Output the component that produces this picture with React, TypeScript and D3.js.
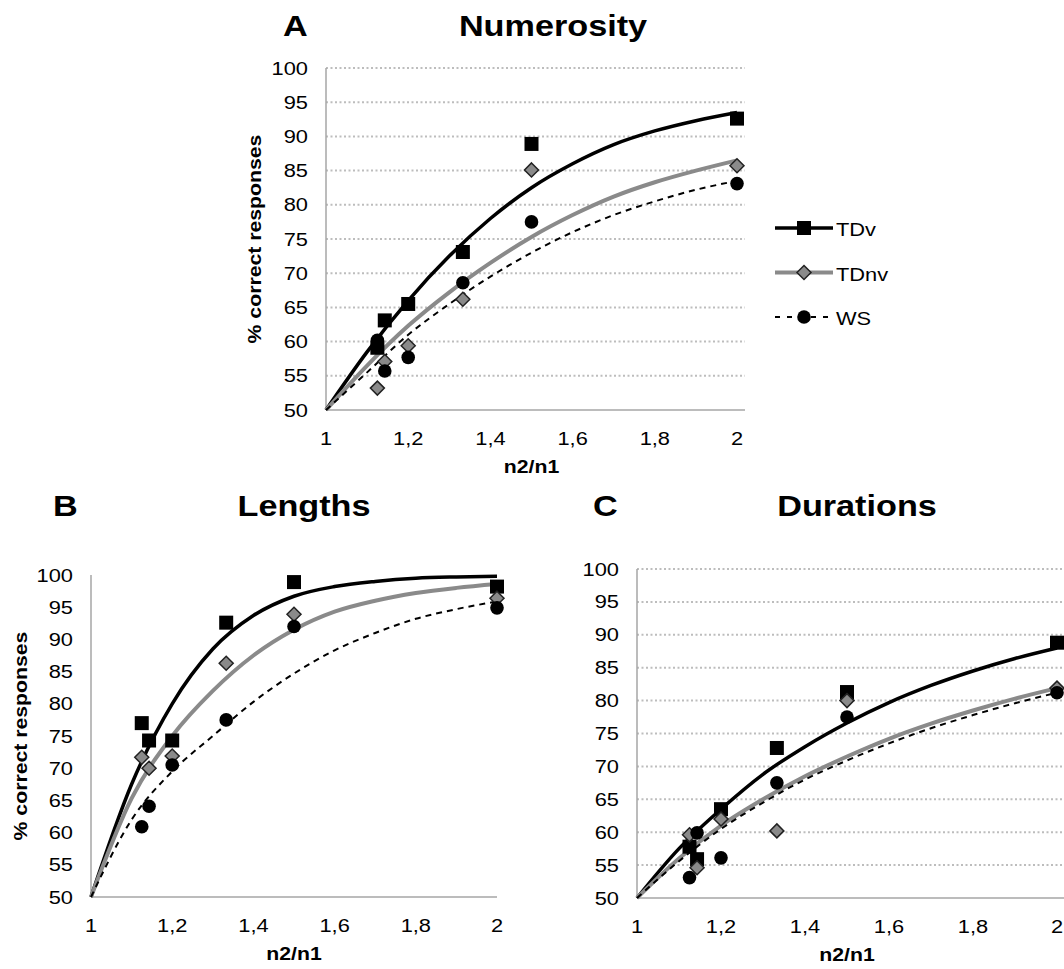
import * as d3 from "d3";
import React from "react";

// ratios n2/n1 where the data were measured
const ratios = [1.125, 1.143, 1.2, 1.333, 1.5, 2];
// x positions of the fitted curves
const fitX = [1, 1.1, 1.2, 1.3, 1.4, 1.5, 1.6, 1.7, 1.8, 1.9, 2];

const xTicks = [1, 1.2, 1.4, 1.6, 1.8, 2];
const yTicks = [50, 55, 60, 65, 70, 75, 80, 85, 90, 95, 100];

// A - Numerosity
const numTDv = [59.1, 63.1, 65.5, 73.1, 88.9, 92.6];
const numTDnv = [53.2, 57.1, 59.4, 66.2, 85.1, 85.7];
const numWS = [60.2, 55.7, 57.7, 68.6, 77.5, 83.1];
const numFitTDv = [50, 58.5, 66, 72.5, 78, 82.5, 86, 88.8, 90.8, 92.3, 93.5];
const numFitTDnv = [50, 56.5, 62.3, 67.2, 71.5, 75.3, 78.5, 81.2, 83.3, 85, 86.5];
const numFitWS = [50, 55.5, 61, 65.5, 69.5, 73, 76, 78.5, 80.5, 82.2, 83.5];

// B - Lengths
const lenTDv = [77.0, 74.3, 74.3, 92.6, 98.9, 98.2];
const lenTDnv = [71.7, 70.0, 71.9, 86.3, 93.9, 96.4];
const lenWS = [60.9, 64.1, 70.5, 77.5, 92.0, 94.9];
const lenFitTDv = [50, 67.5, 80, 88.5, 93.7, 96.7, 98.2, 99, 99.5, 99.7, 99.8];
const lenFitTDnv = [50, 65.3, 75, 82, 87.5, 91.5, 94.3, 96, 97.2, 98, 98.6];
const lenFitWS = [50, 62, 69.5, 75, 80.3, 84.7, 88.3, 91, 93.2, 94.7, 95.9];

// C - Durations
const durTDv = [57.8, 55.9, 63.5, 72.8, 81.3, 88.8];
const durTDnv = [59.6, 54.6, 62.0, 60.2, 80.0, 81.9];
const durWS = [53.1, 59.9, 56.1, 67.5, 77.5, 81.2];
const durFitTDv = [50, 57.5, 63.5, 68.8, 73, 76.6, 79.7, 82.3, 84.5, 86.4, 88.0];
const durFitTDnv = [50, 56, 61, 65, 68.5, 71.5, 74.2, 76.5, 78.5, 80.3, 81.9];
const durFitWS = [50, 55.6, 60.5, 64.5, 68, 70.9, 73.5, 75.8, 77.8, 79.6, 81.2];

const groups = ["TDv", "TDnv", "WS"];

const font = "'Liberation Sans', Arial, sans-serif";
const grey = "#8a8a8a";
const axisGrey = "#a6a6a6";
const stretch = 1.18; // the original's glyphs are wider than Arial

const lineStyle: Record<string, any> = {
  TDv: { stroke: "#000", width: 3.5, dash: null },
  TDnv: { stroke: grey, width: 4, dash: null },
  WS: { stroke: "#000", width: 2, dash: "6,5" },
};

// wide text: scaled along its own direction
function T({ x, y, size, bold, anchor, rotate, children }: any) {
  return (
    <text
      transform={`translate(${x},${y})${rotate ? ` rotate(${rotate})` : ""} scale(${stretch},1)`}
      fontSize={size}
      fontWeight={bold ? "bold" : "normal"}
      textAnchor={anchor || "start"}
    >
      {children}
    </text>
  );
}

function Marker({ kind, x, y }: { kind: string; x: number; y: number }) {
  if (kind === "TDv")
    return <rect x={x - 7} y={y - 7} width={14} height={14} fill="#000" />;
  if (kind === "TDnv")
    return (
      <path
        d={`M${x},${y - 7}L${x + 7},${y}L${x},${y + 7}L${x - 7},${y}Z`}
        fill={grey}
        stroke="#222"
        strokeWidth={1.5}
      />
    );
  return <circle cx={x} cy={y} r={6.8} fill="#000" />;
}

function Panel(props: any) {
  const { left, right, top, bottom, letter, letterX, title, titleX, titleY, grid, gridEnd, yLabelX, points, fits } = props;
  const x = d3.scaleLinear().domain([1, 2]).range([left, right]);
  const y = d3.scaleLinear().domain([50, 100]).range([bottom, top]);
  const line = d3
    .line<number>()
    .x((d, i) => x(fitX[i]))
    .y((d) => y(d))
    .curve(d3.curveMonotoneX);
  const fmt = (v: number) => String(v).replace(".", ",");

  return (
    <g fontFamily={font}>
      <T x={letterX} y={titleY} size={29} bold>
        {letter}
      </T>
      <T x={titleX} y={titleY} size={29} bold anchor="middle">
        {title}
      </T>
      {grid &&
        yTicks.slice(1).map((t) => (
          <line key={t} x1={left} x2={gridEnd} y1={y(t)} y2={y(t)} stroke="#bdbdbd" strokeWidth={2} strokeDasharray="2,2.5" />
        ))}
      <line x1={left} x2={left} y1={top} y2={bottom} stroke={axisGrey} strokeWidth={1.5} />
      <line x1={left} x2={gridEnd} y1={bottom} y2={bottom} stroke={axisGrey} strokeWidth={1.5} />
      {yTicks.map((t) => (
        <T key={t} x={left - 18} y={y(t) + 6.5} size={18.5} anchor="end">
          {t}
        </T>
      ))}
      {xTicks.map((t) => (
        <T key={t} x={x(t)} y={bottom + 35} size={18.5} anchor="middle">
          {fmt(t)}
        </T>
      ))}
      <T x={(left + right) / 2} y={bottom + 63} size={18} bold anchor="middle">
        n2/n1
      </T>
      {yLabelX != null && (
        <T x={yLabelX} y={(top + bottom) / 2} size={18} bold anchor="middle" rotate={-90}>
          % correct responses
        </T>
      )}
      {groups.map((g, gi) => (
        <path
          key={g}
          d={line(fits[gi]) || ""}
          fill="none"
          stroke={lineStyle[g].stroke}
          strokeWidth={lineStyle[g].width}
          strokeDasharray={lineStyle[g].dash || undefined}
        />
      ))}
      {groups.map((g, gi) =>
        points[gi].map((v: number, i: number) => <Marker key={g + i} kind={g} x={x(ratios[i])} y={y(v)} />)
      )}
    </g>
  );
}

function Legend({ x0, y0 }: { x0: number; y0: number }) {
  return (
    <g fontFamily={font}>
      {groups.map((g, i) => {
        const yy = y0 + i * 44.5;
        const s = lineStyle[g];
        return (
          <g key={g}>
            <line x1={x0} x2={x0 + 58} y1={yy} y2={yy} stroke={s.stroke} strokeWidth={s.width} strokeDasharray={s.dash ? "5,7" : undefined} />
            <Marker kind={g} x={x0 + 29} y={yy} />
            <T x={x0 + 61} y={yy + 8} size={18.5}>
              {g}
            </T>
          </g>
        );
      })}
    </g>
  );
}

export default function App() {
  return (
    <svg width={1064} height={969} style={{ position: "absolute", left: 0, top: 0, background: "#fff" }}>
      <Panel
        left={326}
        right={737}
        top={68}
        bottom={410}
        letter="A"
        letterX={283}
        title="Numerosity"
        titleX={553}
        titleY={36}
        grid={true}
        gridEnd={745}
        yLabelX={261}
        points={[numTDv, numTDnv, numWS]}
        fits={[numFitTDv, numFitTDnv, numFitWS]}
      />
      <Panel
        left={91}
        right={497}
        top={575}
        bottom={897}
        letter="B"
        letterX={53}
        title="Lengths"
        titleX={304}
        titleY={516}
        grid={false}
        gridEnd={497}
        yLabelX={27}
        points={[lenTDv, lenTDnv, lenWS]}
        fits={[lenFitTDv, lenFitTDnv, lenFitWS]}
      />
      <Panel
        left={637}
        right={1057}
        top={569}
        bottom={898}
        letter="C"
        letterX={593}
        title="Durations"
        titleX={857}
        titleY={516}
        grid={true}
        gridEnd={1064}
        yLabelX={null}
        points={[durTDv, durTDnv, durWS]}
        fits={[durFitTDv, durFitTDnv, durFitWS]}
      />
      <Legend x0={775} y0={228} />
    </svg>
  );
}
